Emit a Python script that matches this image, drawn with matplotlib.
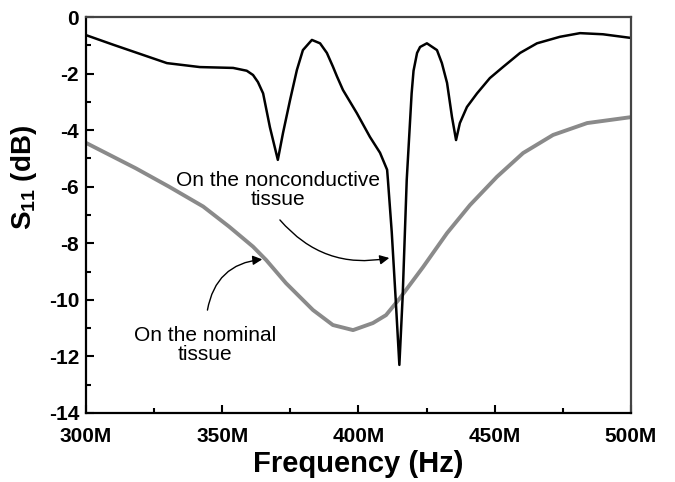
import matplotlib
matplotlib.use("Agg")
import matplotlib.pyplot as plt
from matplotlib.ticker import MultipleLocator, FuncFormatter

plt.rcParams['font.family'] = ['Liberation Sans', 'DejaVu Sans']
plt.rcParams['mathtext.fontset'] = 'custom'
plt.rcParams['mathtext.rm'] = 'Liberation Sans:bold'
plt.rcParams['mathtext.bf'] = 'Liberation Sans:bold'

# frequency in MHz, S11 in dB
f_noncond = [300, 310, 320, 329.7, 341.8, 354, 359, 361.3, 363.1, 365, 367.5, 370.4,
             372.3, 374.9, 377.4, 379.6, 382.9, 385.9, 388.4, 390.6, 392.1, 394.3,
             399.4, 404.2, 407.9, 410.5, 410.8, 412.2, 413.6, 415.0, 416.2,
             417.7, 419.5, 420.2, 421.5, 422.6, 425.1, 428.8, 430.6,
             432.5, 434.3, 435.8, 437.2, 439.8, 443.5, 448.2, 453, 459.3, 465.5,
             473.9, 481.3, 489.7, 500]
s11_noncond = [-0.64, -0.98, -1.31, -1.63, -1.77, -1.8, -1.9, -2.05, -2.3, -2.7, -3.9, -5.05,
               -4.1, -2.93, -1.87, -1.17, -0.81, -0.93, -1.27, -1.75, -2.1, -2.58,
               -3.4, -4.24, -4.8, -5.4, -5.76, -7.6, -9.9, -12.3, -9.9,
               -5.76, -2.7, -1.9, -1.27, -1.06, -0.93, -1.17, -1.63,
               -2.33, -3.53, -4.35, -3.75, -3.18, -2.7, -2.16, -1.77, -1.27, -0.93,
               -0.7, -0.57, -0.61, -0.74]

f_nominal = [300, 318.3, 330.5, 343, 352.5, 361.3, 366.1, 373.4, 383.3, 390.6, 398,
             405.3, 410.1, 415.2, 423.7, 432.5, 440.9, 450.8, 460.4, 471.4, 483.9, 500]
s11_nominal = [-4.45, -5.35, -6.0, -6.7, -7.41, -8.12, -8.59, -9.41, -10.36, -10.89, -11.07,
               -10.82, -10.54, -9.94, -8.84, -7.64, -6.65, -5.65, -4.81, -4.17, -3.75, -3.54]

fig = plt.figure(figsize=(6.75, 4.82), dpi=100)
ax = fig.add_axes([0.1274, 0.1432, 0.8074, 0.8215])

ax.plot(f_nominal, s11_nominal, color='#8a8a8a', lw=2.8, solid_joinstyle='round')
ax.plot(f_noncond, s11_noncond, color='black', lw=1.8, solid_joinstyle='round')

ax.set_xlim(300, 500)
ax.set_ylim(-14, 0)
ax.xaxis.set_major_locator(MultipleLocator(50))
ax.xaxis.set_minor_locator(MultipleLocator(25))
ax.yaxis.set_major_locator(MultipleLocator(2))
ax.yaxis.set_minor_locator(MultipleLocator(1))
ax.xaxis.set_major_formatter(FuncFormatter(lambda v, p: '%dM' % v))
ax.yaxis.set_major_formatter(FuncFormatter(lambda v, p: '%d' % v))
ax.tick_params(which='both', direction='in', width=1.5)
ax.tick_params(which='major', length=6, labelsize=15)
ax.tick_params(which='minor', length=3.5)
ax.tick_params(axis='x', pad=10)
ax.tick_params(axis='y', pad=5)
for lab in ax.get_xticklabels() + ax.get_yticklabels():
    lab.set_fontweight('bold')
for s in ax.spines.values():
    s.set_linewidth(1.6)
ax.spines['top'].set_color('#444444')
ax.spines['right'].set_color('#444444')

ax.set_xlabel('Frequency (Hz)', fontsize=21, fontweight='bold', labelpad=3)
ax.set_ylabel(r'S$_{11}$ (dB)', fontsize=20, fontweight='bold')
ax.yaxis.set_label_coords(-0.086, 0.595)

ax.text(370.5, -6.1, 'On the nonconductive\ntissue', ha='center', va='center',
        fontsize=15, linespacing=1.0)
ax.annotate('', xy=(412.3, -8.5), xytext=(370.5, -7.1),
            arrowprops=dict(arrowstyle='-|>', color='black', lw=1.0,
                            connectionstyle='arc3,rad=0.3', mutation_scale=14))

ax.text(343.7, -11.6, 'On the nominal\ntissue', ha='center', va='center',
        fontsize=15, linespacing=1.0)
ax.annotate('', xy=(365.7, -8.56), xytext=(344.4, -10.46),
            arrowprops=dict(arrowstyle='-|>', color='black', lw=1.0,
                            connectionstyle='arc3,rad=-0.4', mutation_scale=14))

fig.savefig('out.png', dpi=100)
